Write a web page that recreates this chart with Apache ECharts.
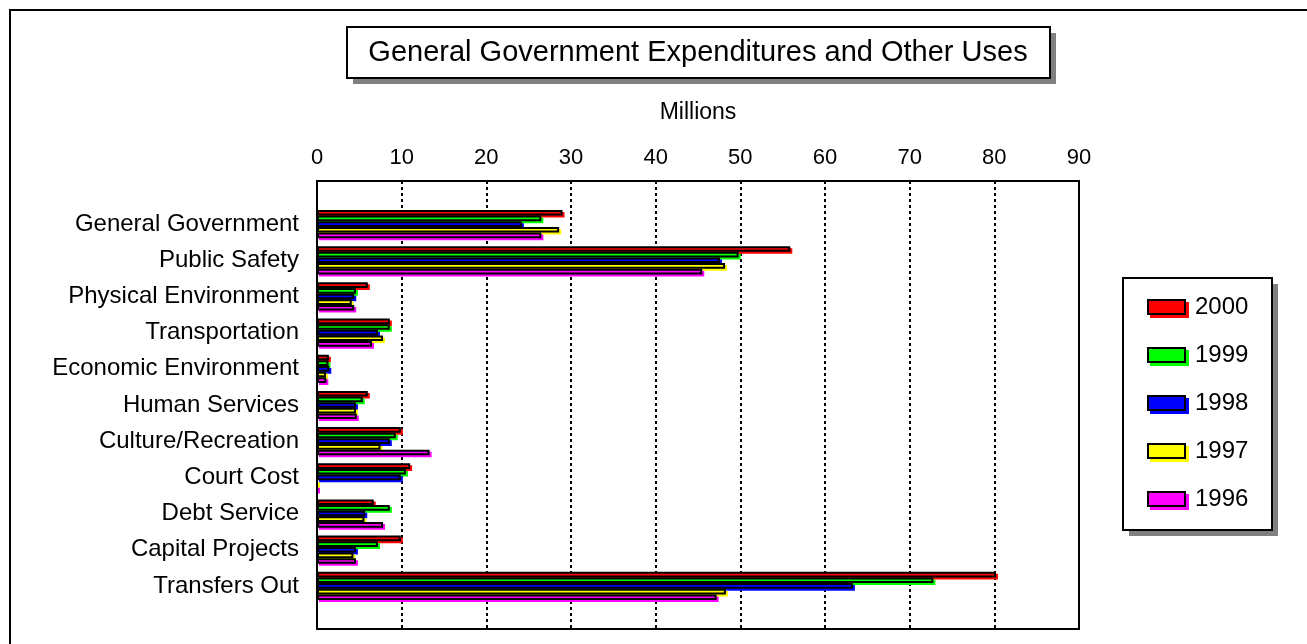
<!DOCTYPE html>
<html>
<head>
<meta charset="utf-8">
<script src="https://cdn.jsdelivr.net/npm/echarts@6/dist/echarts.min.js"></script>
<style>html,body{margin:0;padding:0;background:#fff}#c{width:1307px;height:644px}</style>
</head>
<body>
<div id="c"></div>
<script>
const categories = ['General Government','Public Safety','Physical Environment','Transportation','Economic Environment','Human Services','Culture/Recreation','Court Cost','Debt Service','Capital Projects','Transfers Out'];
const years = ['2000','1999','1998','1997','1996'];
const colors = ['#ff0000','#00ff00','#0000ff','#ffff00','#ff00ff'];
const v2000 = [29.0, 55.9, 6.0, 8.6, 1.4, 6.0, 9.9, 11.0, 6.7, 9.9, 80.2];
const v1999 = [26.5, 49.8, 4.6, 8.6, 1.35, 5.4, 9.3, 10.5, 8.6, 7.2, 72.8];
const v1998 = [24.2, 47.6, 4.4, 7.2, 1.45, 4.6, 8.6, 9.9, 5.7, 4.6, 63.3];
const v1997 = [28.6, 48.2, 4.1, 7.8, 1.06, 4.6, 7.5, 0, 5.6, 4.3, 48.3];
const v1996 = [26.5, 45.5, 4.4, 6.5, 1.1, 4.7, 13.3, 0, 7.8, 4.6, 47.2];
const seriesValues = [v2000, v1999, v1998, v1997, v1996];
const xTicks = {min: 0, max: 90, interval: 10};
const titleText = 'General Government Expenditures and Other Uses';
const axisName = 'Millions';

const FONT = '"Liberation Sans", Arial, sans-serif';
const chart = echarts.init(document.getElementById('c'), null, {renderer: 'canvas'});
chart.setOption({
  animation: false,
  backgroundColor: '#fff',
  textStyle: {fontFamily: FONT},
  grid: [
    {left: 317, top: 181, width: 762, height: 448, show: true, borderColor: '#000', borderWidth: 2, backgroundColor: '#fff'},
    {left: 317, top: 206, width: 762, height: 398}
  ],
  xAxis: [
    {gridIndex: 0, type: 'value', position: 'top', min: xTicks.min, max: xTicks.max, interval: xTicks.interval,
     axisLine: {show: false}, axisTick: {show: false},
     axisLabel: {fontSize: 22, color: '#000', margin: 12, fontFamily: FONT},
     splitLine: {show: true, lineStyle: {color: '#000', width: 2, type: [3, 3]}},
     name: axisName, nameLocation: 'middle', nameGap: 57,
     nameTextStyle: {fontSize: 23, color: '#000', fontFamily: FONT}},
    {gridIndex: 1, type: 'value', min: xTicks.min, max: xTicks.max, show: false}
  ],
  yAxis: [
    {gridIndex: 0, type: 'value', min: 0, max: 1, show: false},
    {gridIndex: 1, type: 'category', inverse: true, data: categories,
     axisLine: {show: false}, axisTick: {show: false}, splitLine: {show: false},
     axisLabel: {fontSize: 24, color: '#000', margin: 18, fontFamily: FONT, padding: [0, 0, 6, 0]}}
  ],
  legend: {
    orient: 'vertical', left: 1147, top: 295, padding: 0, z: 10,
    itemWidth: 37, itemHeight: 14, itemGap: 24, icon: 'rect',
    textStyle: {fontSize: 24, color: '#000', lineHeight: 24, fontFamily: FONT, padding: [0, 0, 0, 5]},
    itemStyle: {borderColor: '#000', borderWidth: 2},
    data: years.map((y, i) => ({name: y, itemStyle: {color: colors[i], borderColor: '#000', borderWidth: 2,
      shadowColor: colors[i], shadowOffsetX: 3, shadowOffsetY: 3, shadowBlur: 0}}))
  },
  graphic: [
    {type: 'polyline', z: 0, shape: {points: [[10, 644], [10, 10], [1307, 10]]}, style: {stroke: '#000', lineWidth: 2, fill: null}},
    {type: 'rect', z: 1, shape: {x: 353, y: 33, width: 703, height: 51}, style: {fill: '#808080'}},
    {type: 'rect', z: 2, shape: {x: 347, y: 27, width: 703, height: 51}, style: {fill: '#fff', stroke: '#000', lineWidth: 2}},
    {type: 'text', z: 3, x: 698, y: 53, style: {text: titleText, fontSize: 29, fontFamily: FONT, fill: '#000', textAlign: 'center', textVerticalAlign: 'middle'}},
    {type: 'rect', z: 1, shape: {x: 1129, y: 284, width: 149, height: 252}, style: {fill: '#808080'}},
    {type: 'rect', z: 2, shape: {x: 1123, y: 278, width: 149, height: 252}, style: {fill: '#fff', stroke: '#000', lineWidth: 2}}
  ],
  series: years.map((y, i) => ({
    name: y, type: 'bar', xAxisIndex: 1, yAxisIndex: 1,
    data: seriesValues[i], barGap: '0%', barCategoryGap: '22%',
    itemStyle: {color: colors[i], borderColor: '#000', borderWidth: 2,
      shadowColor: colors[i], shadowOffsetX: 2, shadowOffsetY: 2, shadowBlur: 0}
  }))
});
</script>
</body>
</html>
